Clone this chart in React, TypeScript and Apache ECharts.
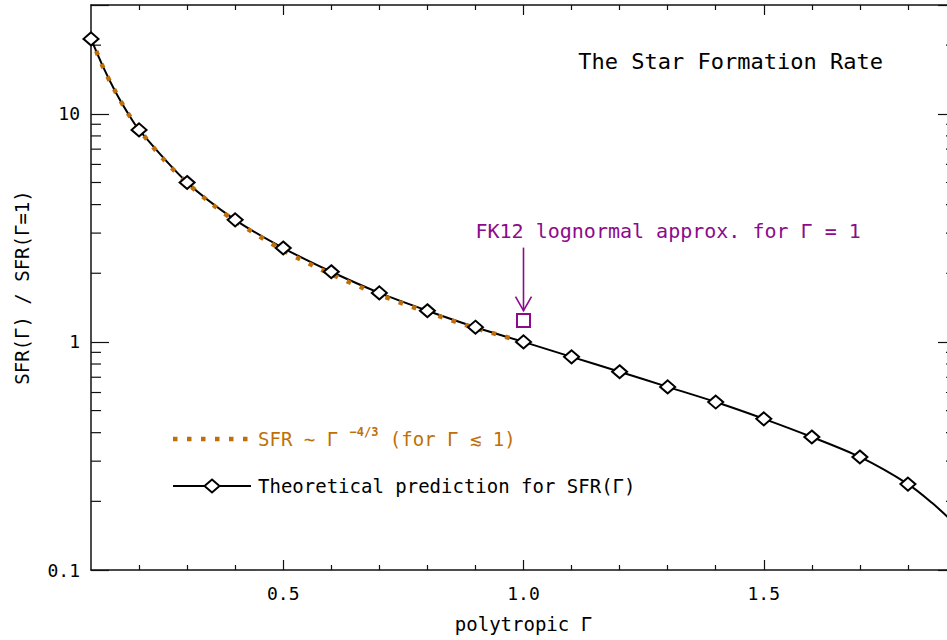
import { useEffect, useRef } from "react";
import * as echarts from "echarts";

const FONT = "'DejaVu Sans Mono', 'Liberation Mono', monospace";
const ORANGE = "#c06f08";
const PURPLE = "#8c0a8c";
const INK = "#111";

// axis ranges
const X_MIN = 0.1;
const X_MAX = 1.9;
const Y_MIN = 0.1;
const Y_MAX = 30;

// tick positions
const X_MAJOR_TICKS = [0.5, 1.0, 1.5];
const X_MINOR_TICKS = [0.2, 0.3, 0.4, 0.6, 0.7, 0.8, 0.9, 1.1, 1.2, 1.3, 1.4, 1.6, 1.7, 1.8];
const Y_MINOR_TICKS = [0.2, 0.3, 0.4, 0.5, 0.6, 0.7, 0.8, 0.9, 2, 3, 4, 5, 6, 7, 8, 9, 20];

// theoretical prediction: sampled nodes (diamonds)
const GAMMA_NODES = [0.1, 0.2, 0.3, 0.4, 0.5, 0.6, 0.7, 0.8, 0.9, 1.0, 1.1, 1.2, 1.3, 1.4, 1.5, 1.6, 1.7, 1.8];
const SFR_NODES = [21.3, 8.5, 5.0, 3.43, 2.58, 2.03, 1.64, 1.37, 1.16, 1.0, 0.86, 0.74, 0.635, 0.545, 0.46, 0.383, 0.313, 0.238];
// extra points along the continuous theoretical curve
const GAMMA_CURVE_EXTRA = [0.125, 0.15, 0.175, 1.85, 1.9];
const SFR_CURVE_EXTRA = [16.1, 12.6, 10.2, 0.197, 0.158];

// SFR ~ Gamma^(-4/3) power law for Gamma <= 1
const GAMMA_POWER_LAW = [0.1, 0.125, 0.15, 0.175, 0.2, 0.25, 0.3, 0.35, 0.4, 0.5, 0.6, 0.7, 0.8, 0.9, 1.0];
const SFR_POWER_LAW = [21.5, 16.0, 12.6, 10.2, 8.55, 6.35, 4.98, 4.05, 3.39, 2.52, 1.98, 1.61, 1.35, 1.15, 1.0];

// FK12 lognormal approximation
const GAMMA_FK12 = [1.0];
const SFR_FK12 = [1.24];

const zip = (a: number[], b: number[]) => a.map((v, i) => [v, b[i]]);

export default function App() {
  const ref = useRef<HTMLDivElement>(null);

  useEffect(() => {
    if (!ref.current) return;
    const chart = echarts.init(ref.current, undefined, { renderer: "svg" });

    const curve = [...zip(GAMMA_NODES, SFR_NODES), ...zip(GAMMA_CURVE_EXTRA, SFR_CURVE_EXTRA)].sort(
      (a, b) => a[0] - b[0]
    );

    const axisLine = { show: true, onZero: false, lineStyle: { color: INK, width: 1.5 } };
    const tickLine = { color: INK, width: 1.2 };
    const text = { fontFamily: FONT, fontSize: 18, color: "#000" };

    const xCommon = { type: "value", min: X_MIN, max: X_MAX, splitLine: { show: false } };
    const yCommon = { type: "log", logBase: 10, min: Y_MIN, max: Y_MAX, splitLine: { show: false } };

    const logLabel = (v: number) => {
      const l = Math.log10(v);
      if (Math.abs(l - Math.round(l)) > 1e-6) return "";
      return v >= 1 ? String(Math.round(v)) : v.toFixed(1);
    };

    chart.setOption({
      animation: false,
      backgroundColor: "#fff",
      title: {
        text: "The Star Formation Rate",
        right: 59,
        top: 45,
        textStyle: { ...text, fontSize: 22, fontWeight: "normal" },
      },
      grid: { left: 91, right: -9, top: 5, bottom: 70, outerBoundsMode: "none" },
      xAxis: [
        {
          ...xCommon,
          position: "bottom",
          axisLine,
          axisTick: { inside: true, length: 10, customValues: X_MAJOR_TICKS, lineStyle: tickLine },
          axisLabel: {
            ...text,
            customValues: X_MAJOR_TICKS,
            margin: 14,
            formatter: (v: number) => v.toFixed(1),
          },
          name: "polytropic Γ",
          nameLocation: "middle",
          nameGap: 44,
          nameTextStyle: { ...text, fontSize: 19 },
        },
        {
          ...xCommon,
          position: "bottom",
          axisLine: { show: false, onZero: false },
          axisTick: { inside: true, length: 5, customValues: X_MINOR_TICKS, lineStyle: tickLine },
          axisLabel: { show: false },
        },
        {
          ...xCommon,
          position: "top",
          axisLine,
          axisTick: { inside: true, length: 10, customValues: X_MAJOR_TICKS, lineStyle: tickLine },
          axisLabel: { show: false },
        },
        {
          ...xCommon,
          position: "top",
          axisLine: { show: false, onZero: false },
          axisTick: { inside: true, length: 5, customValues: X_MINOR_TICKS, lineStyle: tickLine },
          axisLabel: { show: false },
        },
      ],
      yAxis: [
        {
          ...yCommon,
          position: "left",
          axisLine,
          axisTick: { inside: true, length: 18, lineStyle: tickLine },
          axisLabel: { ...text, margin: 11, formatter: logLabel },
          name: "SFR(Γ) / SFR(Γ=1)",
          nameLocation: "middle",
          nameGap: 60,
          nameTextStyle: { ...text, fontSize: 19 },
        },
        {
          ...yCommon,
          position: "right",
          axisLine,
          axisTick: { inside: true, length: 18, lineStyle: tickLine },
          axisLabel: { show: false },
        },
      ],
      graphic: [
        {
          type: "line",
          shape: { x1: 173, y1: 439, x2: 251, y2: 439 },
          style: { stroke: ORANGE, lineWidth: 4.5, lineDash: [4.5, 9.5] },
        },
        {
          type: "text",
          x: 258,
          y: 439,
          style: {
            text: "{t|SFR ∼ Γ }{s|−4/3}{t| (for Γ ≲ 1)}",
            fill: ORANGE,
            verticalAlign: "middle",
            rich: {
              t: { fontFamily: FONT, fontSize: 19, fill: ORANGE, lineHeight: 26 },
              s: { fontFamily: FONT, fontSize: 12, fontWeight: "bold", fill: ORANGE, verticalAlign: "top", lineHeight: 18 },
            },
          },
        },
        {
          type: "line",
          shape: { x1: 173, y1: 486, x2: 251, y2: 486 },
          style: { stroke: "#000", lineWidth: 2 },
        },
        {
          type: "polygon",
          shape: { points: [[212, 479.5], [219.5, 486], [212, 492.5], [204.5, 486]] },
          style: { fill: "#fff", stroke: "#000", lineWidth: 2 },
        },
        {
          type: "text",
          x: 258,
          y: 486,
          style: {
            text: "Theoretical prediction for SFR(Γ)",
            fill: "#000",
            font: `19px ${FONT}`,
            verticalAlign: "middle",
          },
        },
      ],
      series: [
        {
          name: "power law",
          type: "line",
          data: zip(GAMMA_POWER_LAW, SFR_POWER_LAW),
          smooth: 0.3,
          showSymbol: false,
          symbol: "none",
          lineStyle: { color: ORANGE, width: 4.5, type: [4.5, 9.5], cap: "butt" },
          z: 3,
        },
        {
          name: "theory curve",
          type: "line",
          data: curve,
          smooth: 0.3,
          showSymbol: false,
          symbol: "none",
          lineStyle: { color: "#000", width: 2 },
          z: 2,
        },
        {
          name: "theory nodes",
          type: "scatter",
          data: zip(GAMMA_NODES, SFR_NODES),
          symbol: "diamond",
          symbolSize: [15, 13],
          itemStyle: { color: "#fff", borderColor: "#000", borderWidth: 2, opacity: 1 },
          z: 4,
        },
        {
          name: "FK12",
          type: "custom",
          clip: false,
          data: zip(GAMMA_FK12, SFR_FK12),
          z: 5,
          renderItem: (_params: any, api: any) => {
            const [cx, cy] = api.coord([api.value(0), api.value(1)]);
            return {
              type: "group",
              children: [
                {
                  type: "rect",
                  shape: { x: cx - 6.5, y: cy - 6.5, width: 13, height: 13 },
                  style: { fill: "none", stroke: PURPLE, lineWidth: 2 },
                },
                {
                  type: "line",
                  shape: { x1: cx, y1: cy - 73, x2: cx, y2: cy - 10 },
                  style: { stroke: PURPLE, lineWidth: 1.6 },
                },
                {
                  type: "polyline",
                  shape: { points: [[cx - 8, cy - 24], [cx, cy - 10], [cx + 8, cy - 24]] },
                  style: { stroke: PURPLE, lineWidth: 1.6, fill: "none" },
                },
                {
                  type: "text",
                  x: cx - 48,
                  y: cy - 90,
                  style: {
                    text: "FK12 lognormal approx. for Γ = 1",
                    fill: PURPLE,
                    font: `20px ${FONT}`,
                    verticalAlign: "middle",
                  },
                },
              ],
            };
          },
        },
        {
          name: "minor y ticks",
          type: "custom",
          clip: false,
          silent: true,
          data: Y_MINOR_TICKS.map((v) => [X_MIN, v]),
          renderItem: (params: any, api: any) => {
            const y = api.coord([X_MIN, api.value(1)])[1];
            const cs = params.coordSys;
            return {
              type: "group",
              children: [
                {
                  type: "line",
                  shape: { x1: cs.x, y1: y, x2: cs.x + 10, y2: y },
                  style: { stroke: INK, lineWidth: 1.2 },
                },
                {
                  type: "line",
                  shape: { x1: cs.x + cs.width - 10, y1: y, x2: cs.x + cs.width, y2: y },
                  style: { stroke: INK, lineWidth: 1.2 },
                },
              ],
            };
          },
        },
      ],
    });

    return () => chart.dispose();
  }, []);

  return (
    <div
      ref={ref}
      style={{ position: "fixed", left: 0, top: 0, width: 947, height: 640, background: "#fff" }}
    />
  );
}
